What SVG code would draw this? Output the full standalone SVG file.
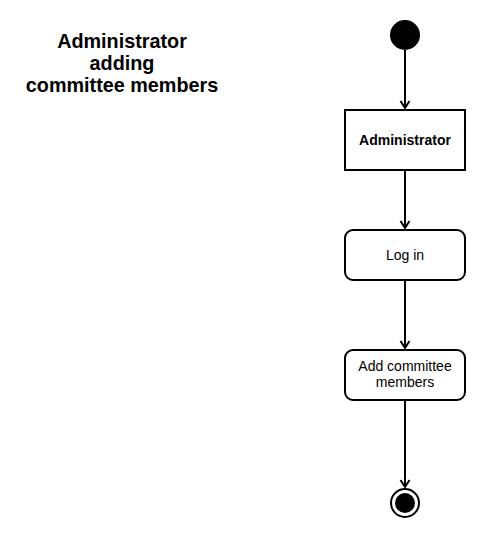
<svg xmlns="http://www.w3.org/2000/svg" width="491" height="540" viewBox="0 0 491 540">
<style>
.box{fill:#fff;stroke:#000;stroke-width:2}
.edge{fill:none;stroke:#000;stroke-width:2}
.t{font-family:"Liberation Sans",Arial,sans-serif;font-size:14px;text-anchor:middle;fill:#000}
.title{font-family:"Liberation Sans",Arial,sans-serif;font-size:19.8px;font-weight:bold;text-anchor:middle;fill:#000}
</style>
<defs>
<marker id="arr" markerWidth="12" markerHeight="12" refX="10" refY="6" orient="auto" markerUnits="userSpaceOnUse">
<path d="M3,1.5 L10,6 L3,10.5" fill="none" stroke="#000" stroke-width="2"/>
</marker>
</defs>
<rect width="491" height="540" fill="#fff"/>
<g id="title">
<text class="title" x="122" y="48">Administrator</text>
<text class="title" x="122" y="70">adding</text>
<text class="title" x="122" y="92">committee members</text>
</g>
<g id="connectors">
<line class="edge" x1="405" y1="50" x2="405" y2="108" marker-end="url(#arr)"/>
<line class="edge" x1="405" y1="170" x2="405" y2="228" marker-end="url(#arr)"/>
<line class="edge" x1="405" y1="280" x2="405" y2="348" marker-end="url(#arr)"/>
<line class="edge" x1="405" y1="400" x2="405" y2="487" marker-end="url(#arr)"/>
</g>
<g id="start">
<circle cx="405" cy="35" r="15" fill="#000"/>
</g>
<g id="administrator">
<rect class="box" x="345" y="110" width="120" height="60"/>
<text class="t" x="405" y="145" font-weight="bold" font-size="14.5px">Administrator</text>
</g>
<g id="login">
<rect class="box" x="345" y="230" width="120" height="50" rx="8"/>
<text class="t" x="405" y="260">Log in</text>
</g>
<g id="addmembers">
<rect class="box" x="345" y="350" width="120" height="50" rx="8"/>
<text class="t" x="405" y="371">Add committee</text>
<text class="t" x="405" y="387">members</text>
</g>
<g id="end">
<circle cx="405" cy="503" r="14" fill="#fff" stroke="#000" stroke-width="2"/>
<circle cx="405" cy="503" r="10" fill="#000"/>
</g>
</svg>
